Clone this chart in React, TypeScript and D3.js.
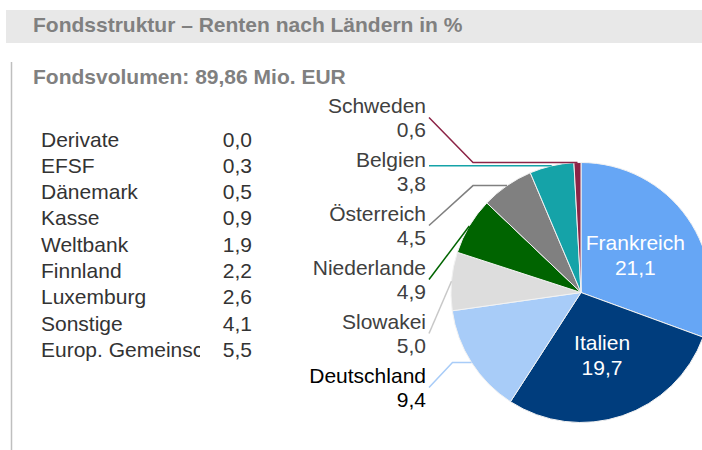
import React from "react";
import * as d3 from "d3";

const title = "Fondsstruktur – Renten nach Ländern in %";
const subtitle = "Fondsvolumen: 89,86 Mio. EUR";

const categories = ["Frankreich", "Italien", "Deutschland", "Slowakei", "Niederlande", "Österreich", "Belgien", "Schweden"];
const values = [21.1, 19.7, 9.4, 5.0, 4.9, 4.5, 3.8, 0.6];
const colors = ["#66A6F5", "#003D7D", "#A8CCF8", "#DDDDDD", "#006400", "#808080", "#15A3A8", "#8C2446"];
const labelColors = ["#ffffff", "#ffffff", "#000000", "#404040", "#404040", "#404040", "#404040", "#404040"];

const otherNames = ["Derivate", "EFSF", "Dänemark", "Kasse", "Weltbank", "Finnland", "Luxemburg", "Sonstige", "Europ. Gemeinsc"];
const otherValues = [0.0, 0.3, 0.5, 0.9, 1.9, 2.2, 2.6, 4.1, 5.5];

const fmt = (v: number) => v.toFixed(1).replace(".", ",");
const FONT = "'Liberation Sans', Arial, sans-serif";

export default function App() {
  const W = 702, H = 450;
  const cx = 581, cy = 292.5, R = 130;
  const pie = d3.pie<number>().sort(null).value((d) => d)(values);
  const arc = d3.arc<d3.PieArcDatum<number>>().innerRadius(0).outerRadius(R);

  // outside labels stacked upward from the lowest one
  const outside = pie.map((p, i) => ({ p, i })).filter((d) => d.p.value < 15);
  const spacing = 54;
  const labelRight = 426;
  const anchors = outside.map(({ p }) => {
    const a = (p.startAngle + p.endAngle) / 2;
    return { x: cx + R * Math.sin(a), y: cy - R * Math.cos(a) };
  });
  const baseStart = anchors[0].y + 20;

  const rowY = d3.scaleLinear().domain([0, 1]).range([146.5, 172.8]);

  return (
    <div style={{ position: "absolute", left: 0, top: 0 }}>
      <svg width={W} height={H} style={{ display: "block", fontFamily: FONT }}>
        <rect x={0} y={0} width={W} height={H} fill="#fff" />
        <rect x={6} y={10} width={W - 6} height={33} fill="#E8E8E8" />
        <text x={33} y={31.5} fontSize={21} fontWeight="bold" fill="#808080">{title}</text>
        <line x1={11.5} y1={62} x2={11.5} y2={H} stroke="#BFBFBF" strokeWidth={1.5} />
        <text x={33} y={83.5} fontSize={21} fontWeight="bold" fill="#808080">{subtitle}</text>

        <defs>
          <clipPath id="nameClip">
            <rect x={0} y={100} width={200} height={300} />
          </clipPath>
        </defs>
        <g clipPath="url(#nameClip)">
          {otherNames.map((n, i) => (
            <text key={n} x={41} y={rowY(i)} fontSize={21} fill="#333333">{n}</text>
          ))}
        </g>
        {otherValues.map((v, i) => (
          <text key={i} x={252} y={rowY(i)} fontSize={21} fill="#333333" textAnchor="end">{fmt(v)}</text>
        ))}

        <g transform={`translate(${cx},${cy})`}>
          {pie.map((p, i) => (
            <path key={i} d={arc(p) || ""} fill={colors[i]} stroke="#F2F2F2" strokeWidth={1} />
          ))}
          {pie.map((p, i) => {
            if (p.value < 15) return null;
            const [x, y] = arc.centroid(p);
            const lx = x * 1.02, ly = y * 1.02;
            return (
              <text key={"in" + i} x={lx} y={ly} fontSize={21} fill={labelColors[i]} textAnchor="middle">
                <tspan x={lx} dy={-5}>{categories[i]}</tspan>
                <tspan x={lx} dy={25}>{fmt(values[i])}</tspan>
              </text>
            );
          })}
        </g>

        {outside.map(({ i }, k) => {
          const base = baseStart - k * spacing;
          const a = anchors[k];
          let ey = base + 5;
          if (Math.abs(ey - a.y) < 10) ey = a.y;
          const elbowX = Math.min(a.x - (a.y > cy ? 19 : 0), 473);
          const pts: [number, number][] = [[429, ey], [elbowX, a.y], [a.x, a.y]];
          return (
            <g key={"out" + i}>
              <path d={d3.line()(pts) || ""} fill="none" stroke={colors[i] === "#DDDDDD" ? "#C8C8C8" : colors[i]} strokeWidth={1.5} />
              <text x={labelRight} y={base} fontSize={21} fill={labelColors[i]} textAnchor="end">{categories[i]}</text>
              <text x={labelRight} y={base + 24.5} fontSize={21} fill={labelColors[i]} textAnchor="end">{fmt(values[i])}</text>
            </g>
          );
        })}
      </svg>
    </div>
  );
}
